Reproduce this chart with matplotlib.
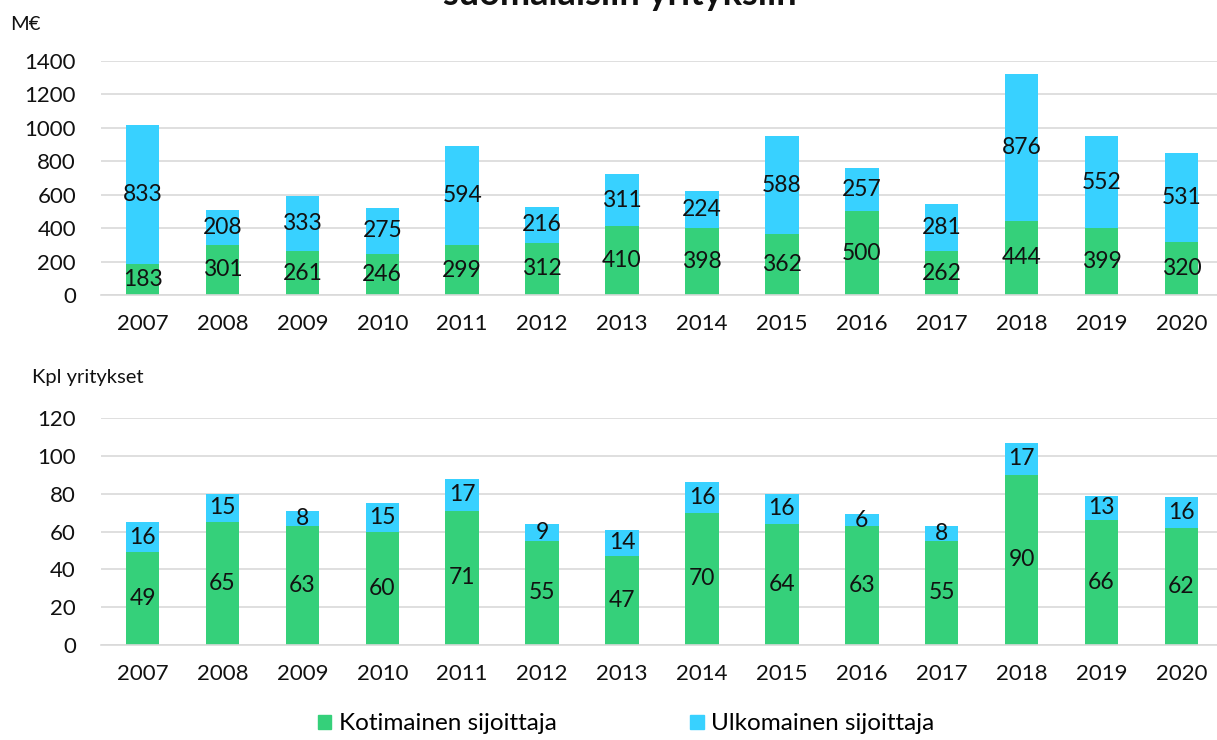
import matplotlib
matplotlib.use("Agg")
import matplotlib.pyplot as plt
from matplotlib.patches import Patch
import numpy as np

plt.rcParams['font.family'] = ['Lato', 'DejaVu Sans']

years = ["2007", "2008", "2009", "2010", "2011", "2012", "2013",
         "2014", "2015", "2016", "2017", "2018", "2019", "2020"]

# M€
eur_koti = [183, 301, 261, 246, 299, 312, 410, 398, 362, 500, 262, 444, 399, 320]
eur_ulko = [833, 208, 333, 275, 594, 216, 311, 224, 588, 257, 281, 876, 552, 531]

# kpl yritykset
kpl_koti = [49, 65, 63, 60, 71, 55, 47, 70, 64, 63, 55, 90, 66, 62]
kpl_ulko = [16, 15, 8, 15, 17, 9, 14, 16, 16, 6, 8, 17, 13, 16]

green = "#35D07A"
blue = "#38D1FF"
grid_c = "#D9D9D9"


def draw(ax, koti, ulko, ymax, ystep, ylabel, ylabel_pos):
    x = np.arange(len(years))
    koti = np.array(koti)
    ulko = np.array(ulko)
    ax.bar(x, koti, width=0.42, color=green, zorder=2)
    ax.bar(x, ulko, width=0.42, bottom=koti, color=blue, zorder=2)
    for i in range(len(x)):
        ax.text(x[i], koti[i] / 2, str(koti[i]), ha="center", va="center",
                fontsize=16.5, color="#111111", zorder=3)
        ax.text(x[i], koti[i] + ulko[i] / 2, str(ulko[i]), ha="center",
                va="center", fontsize=16.5, color="#111111", zorder=3)
    ax.set_ylim(0, ymax)
    ax.set_yticks(np.arange(0, ymax + 1, ystep))
    ax.set_xlim(-0.52, len(years) - 0.48)
    ax.set_xticks(x)
    ax.set_xticklabels(years)
    ax.yaxis.grid(True, color=grid_c, linewidth=1.2, zorder=0)
    ax.set_axisbelow(True)
    for s in ["top", "right", "left"]:
        ax.spines[s].set_visible(False)
    ax.spines["bottom"].set_color(grid_c)
    ax.spines["bottom"].set_linewidth(1.2)
    ax.tick_params(axis="both", length=0, labelsize=16, colors="#111111")
    ax.tick_params(axis="x", pad=14)
    ax.tick_params(axis="y", pad=18)
    fig.text(ylabel_pos[0], ylabel_pos[1], ylabel, fontsize=14.5,
             color="#111111", ha="left", va="center")


fig = plt.figure(figsize=(12.17, 7.40), dpi=100)

ax1 = fig.add_axes([101 / 1217, 1 - 295 / 740, 1122 / 1217, 234 / 740])
draw(ax1, eur_koti, eur_ulko, 1400, 200, "M€", (10 / 1217, 1 - 25 / 740))

ax2 = fig.add_axes([101 / 1217, 1 - 645 / 740, 1122 / 1217, 227 / 740])
draw(ax2, kpl_koti, kpl_ulko, 120, 20, "Kpl yritykset", (32 / 1217, 1 - 378 / 740))

# title (cut off at the top in the original)
fig.text(620 / 1217, 1 + 6 / 740, "suomalaisiin yrityksiin", ha="center",
         va="center", fontsize=26, fontweight="bold", color="#111111")

# legend
handles = [Patch(color=green, label="Kotimainen sijoittaja"),
           Patch(color=blue, label="Ulkomainen sijoittaja")]
fig.legend(handles=handles, loc="center", bbox_to_anchor=(626 / 1217, 1 - 724 / 740),
           ncol=2, frameon=False, fontsize=17.5, handlelength=0.55, handleheight=0.55,
           handletextpad=0.3, columnspacing=5.5)

fig.savefig("out.png", dpi=100)
